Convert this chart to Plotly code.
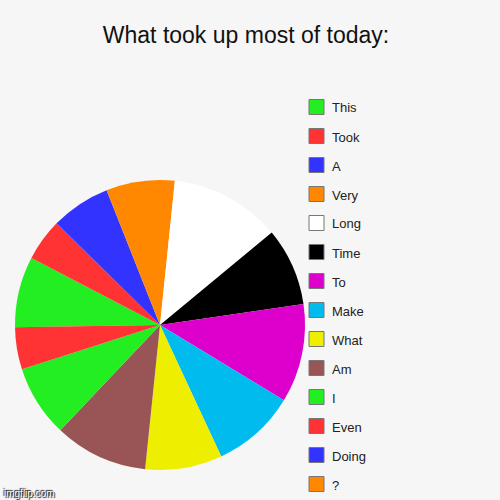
import plotly.graph_objects as go

# slice data (degrees of the full circle)
labels = ["This", "Took", "A", "Very", "Long", "Time", "To", "Make",
          "What", "Am", "I", "Even", "Doing", "?"]
values = [28.4, 17.0, 23.9, 27.5, 44.5, 31.3, 39.6, 33.7,
          30.9, 37.5, 28.8, 16.9, 0, 0]
colors = ["#22ee22", "#ff3333", "#3333ff", "#ff8800", "#ffffff", "#000000",
          "#dd00cc", "#00bbee", "#eeee00", "#995555", "#22ee22", "#ff3333",
          "#3333ff", "#ff8800"]

W, H = 500, 500

fig = go.Figure()
fig.add_trace(
    go.Pie(
        labels=labels, values=values, sort=False, direction='clockwise',
        rotation=269.1, textinfo='none', showlegend=False,
        marker=dict(colors=colors, line=dict(width=0)),
        domain=dict(x=[15 / W, 305 / W], y=[30 / H, 320 / H]),
    )
)

# legend drawn by hand so the row spacing matches
shapes = []
annotations = []
for i, (lab, col) in enumerate(zip(labels, colors)):
    yc = 107 + 29 * i
    shapes.append(dict(
        type='rect', xref='paper', yref='paper',
        x0=309 / W, x1=324 / W, y0=1 - (yc + 7.5) / H, y1=1 - (yc - 7.5) / H,
        fillcolor=col, line=dict(color='#777777', width=1)))
    annotations.append(dict(
        text=lab, xref='paper', yref='paper', x=330 / W, y=1 - (yc + 1) / H,
        xanchor='left', yanchor='middle', showarrow=False,
        font=dict(size=13, color='#222222')))

annotations.append(dict(
    text='imgflip.com', xref='paper', yref='paper', x=2 / W, y=1 - 493 / H,
    xanchor='left', yanchor='middle', showarrow=False,
    font=dict(size=10, color='#f4f4f4',
              shadow='1px 1px 1px #000000, -1px -1px 1px #000000')))

fig.update_layout(
    width=W, height=H,
    margin=dict(l=0, r=0, t=0, b=0),
    paper_bgcolor='#f6f6f6', plot_bgcolor='#f6f6f6',
    font=dict(family='Liberation Sans, Arial, sans-serif'),
    title=dict(text='What took up most of today:', x=246 / W, y=1 - 35 / H,
               xanchor='center', yanchor='middle',
               font=dict(size=23, color='#111111')),
    shapes=shapes, annotations=annotations,
)

# drop the page's default body margin so the chart sits at the window corner
fig.write_html("out.html", config={'displayModeBar': False},
               post_script="document.body.style.margin='0';")
